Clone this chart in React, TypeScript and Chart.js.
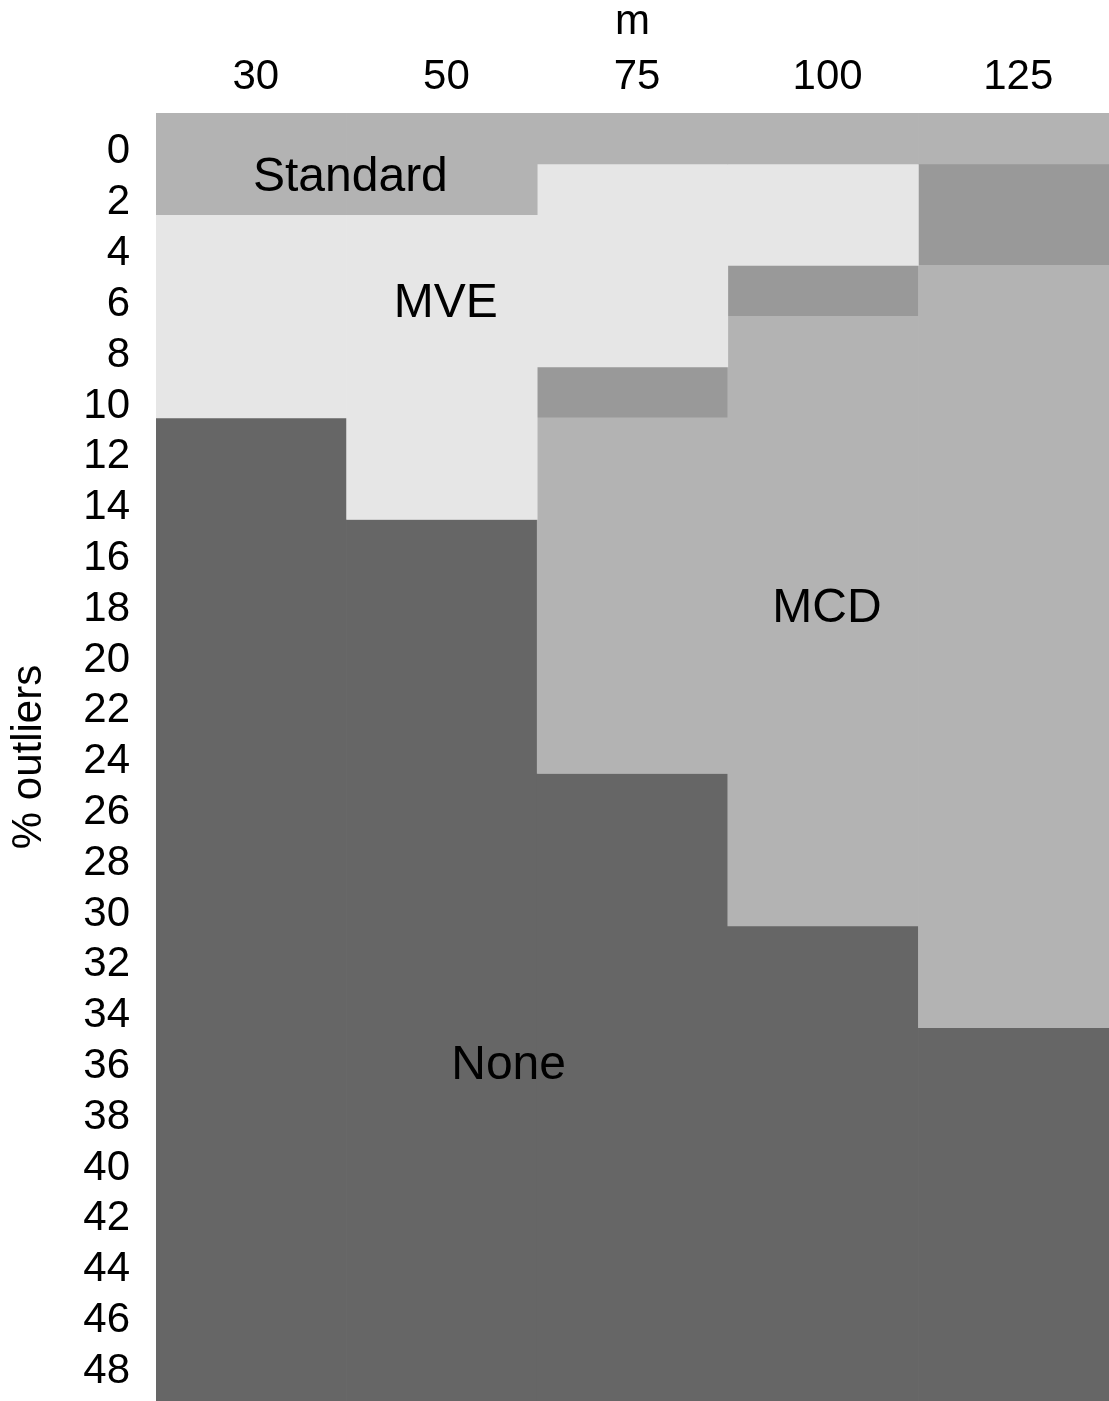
import React, { useEffect, useRef } from 'react';
import { Chart, registerables } from 'chart.js';

Chart.register(...registerables);

// Sample size m (columns) and percentage of outliers (rows)
const mValues = ['30', '50', '75', '100', '125'];
const outlierPct = [0, 2, 4, 6, 8, 10, 12, 14, 16, 18, 20, 22, 24, 26, 28, 30, 32, 34, 36, 38, 40, 42, 44, 46, 48, 50];
const tickPct = [0, 2, 4, 6, 8, 10, 12, 14, 16, 18, 20, 22, 24, 26, 28, 30, 32, 34, 36, 38, 40, 42, 44, 46, 48];

// Best method per cell: S = Standard, V = MVE, C = MCD, T = MVE/MCD tie, N = None
const m30 = ['S', 'S', 'V', 'V', 'V', 'V', 'N', 'N', 'N', 'N', 'N', 'N', 'N', 'N', 'N', 'N', 'N', 'N', 'N', 'N', 'N', 'N', 'N', 'N', 'N', 'N'];
const m50 = ['S', 'S', 'V', 'V', 'V', 'V', 'V', 'V', 'N', 'N', 'N', 'N', 'N', 'N', 'N', 'N', 'N', 'N', 'N', 'N', 'N', 'N', 'N', 'N', 'N', 'N'];
const m75 = ['S', 'V', 'V', 'V', 'V', 'T', 'C', 'C', 'C', 'C', 'C', 'C', 'C', 'N', 'N', 'N', 'N', 'N', 'N', 'N', 'N', 'N', 'N', 'N', 'N', 'N'];
const m100 = ['S', 'V', 'V', 'T', 'C', 'C', 'C', 'C', 'C', 'C', 'C', 'C', 'C', 'C', 'C', 'C', 'N', 'N', 'N', 'N', 'N', 'N', 'N', 'N', 'N', 'N'];
const m125 = ['S', 'T', 'T', 'C', 'C', 'C', 'C', 'C', 'C', 'C', 'C', 'C', 'C', 'C', 'C', 'C', 'C', 'C', 'N', 'N', 'N', 'N', 'N', 'N', 'N', 'N'];
const columns = [m30, m50, m75, m100, m125];

const methodCodes = ['S', 'V', 'C', 'T', 'N'];
const methodNames = ['Standard', 'MVE', 'MCD', 'MVE/MCD', 'None'];
const methodColors = ['#b3b3b3', '#e6e6e6', '#b3b3b3', '#999999', '#666666'];

// Region labels, placed in data units (m index, % outliers)
const regionLabels = ['Standard', 'MVE', 'MCD', 'None'];
const regionLabelM = [0.52, 1.02, 3.02, 1.35];
const regionLabelPct = [1.54, 6.49, 18.52, 36.52];

const FONT = '"Liberation Sans", Arial, Helvetica, sans-serif';

// Merge runs of equal cells in a column into floating bar segments
function buildDatasets() {
  return methodCodes.map((code, mi) => {
    const data: { x: string; y: [number, number] }[] = [];
    columns.forEach((col, ci) => {
      let i = 0;
      while (i < col.length) {
        if (col[i] !== code) { i++; continue; }
        let j = i;
        while (j + 1 < col.length && col[j + 1] === code) j++;
        data.push({ x: mValues[ci], y: [outlierPct[i] - 1, outlierPct[j] + 1] });
        i = j + 1;
      }
    });
    return {
      label: methodNames[mi],
      data,
      backgroundColor: methodColors[mi],
      borderWidth: 0,
      grouped: false,
      barPercentage: 1,
      categoryPercentage: 1,
    };
  });
}

const regionLabelPlugin = {
  id: 'regionLabels',
  afterDatasetsDraw(chart: any) {
    const { ctx, scales } = chart;
    ctx.save();
    ctx.font = `48px ${FONT}`;
    ctx.fillStyle = '#000000';
    ctx.textAlign = 'center';
    ctx.textBaseline = 'middle';
    regionLabels.forEach((text, i) => {
      ctx.fillText(text, scales.x.getPixelForValue(regionLabelM[i]), scales.y.getPixelForValue(regionLabelPct[i]));
    });
    ctx.restore();
  },
};

export default function App() {
  const ref = useRef<HTMLCanvasElement>(null);

  useEffect(() => {
    const canvas = ref.current;
    if (!canvas) return;
    const chart = new Chart(canvas, {
      type: 'bar',
      data: { labels: mValues, datasets: buildDatasets() as any },
      options: {
        responsive: false,
        maintainAspectRatio: false,
        animation: false,
        devicePixelRatio: 1,
        events: [],
        layout: { padding: 0 },
        plugins: { legend: { display: false }, tooltip: { enabled: false } },
        scales: {
          x: {
            type: 'category',
            position: 'top',
            offset: true,
            grid: { display: false, drawTicks: false, tickLength: 0 },
            border: { display: false },
            ticks: {
              color: '#000000',
              font: { family: FONT, size: 42 },
              padding: 10,
              labelOffset: 4.5,
              maxRotation: 0,
              autoSkip: false,
            },
            title: {
              display: true,
              text: 'm',
              color: '#000000',
              font: { family: FONT, size: 42, lineHeight: 0.9 },
              padding: { top: 4, bottom: 0 },
            },
            afterFit: (scale: any) => {
              scale.height = 113;
              scale.paddingLeft = 0;
              scale.paddingRight = 0;
            },
          },
          y: {
            type: 'linear',
            reverse: true,
            min: -1,
            max: 49.7,
            grid: { display: false, drawTicks: false, tickLength: 0 },
            border: { display: false },
            afterBuildTicks: (scale: any) => {
              scale.ticks = tickPct.map((v) => ({ value: v }));
            },
            ticks: {
              color: '#000000',
              font: { family: FONT, size: 42 },
              padding: 26,
              labelOffset: 13.5,
              autoSkip: false,
              callback: (v: any) => String(v),
            },
            title: {
              display: true,
              text: '% outliers',
              color: '#000000',
              font: { family: FONT, size: 42 },
              padding: { top: 4, bottom: 0 },
            },
            afterFit: (scale: any) => {
              scale.width = 156;
              scale.paddingTop = 0;
              scale.paddingBottom = 0;
            },
          },
        },
      },
      plugins: [regionLabelPlugin],
    });
    return () => chart.destroy();
  }, []);

  return (
    <div style={{ position: 'absolute', left: 0, top: 0, width: 1109, height: 1401, background: '#ffffff' }}>
      <canvas ref={ref} width={1109} height={1401} style={{ display: 'block', width: 1109, height: 1401 }} />
    </div>
  );
}
